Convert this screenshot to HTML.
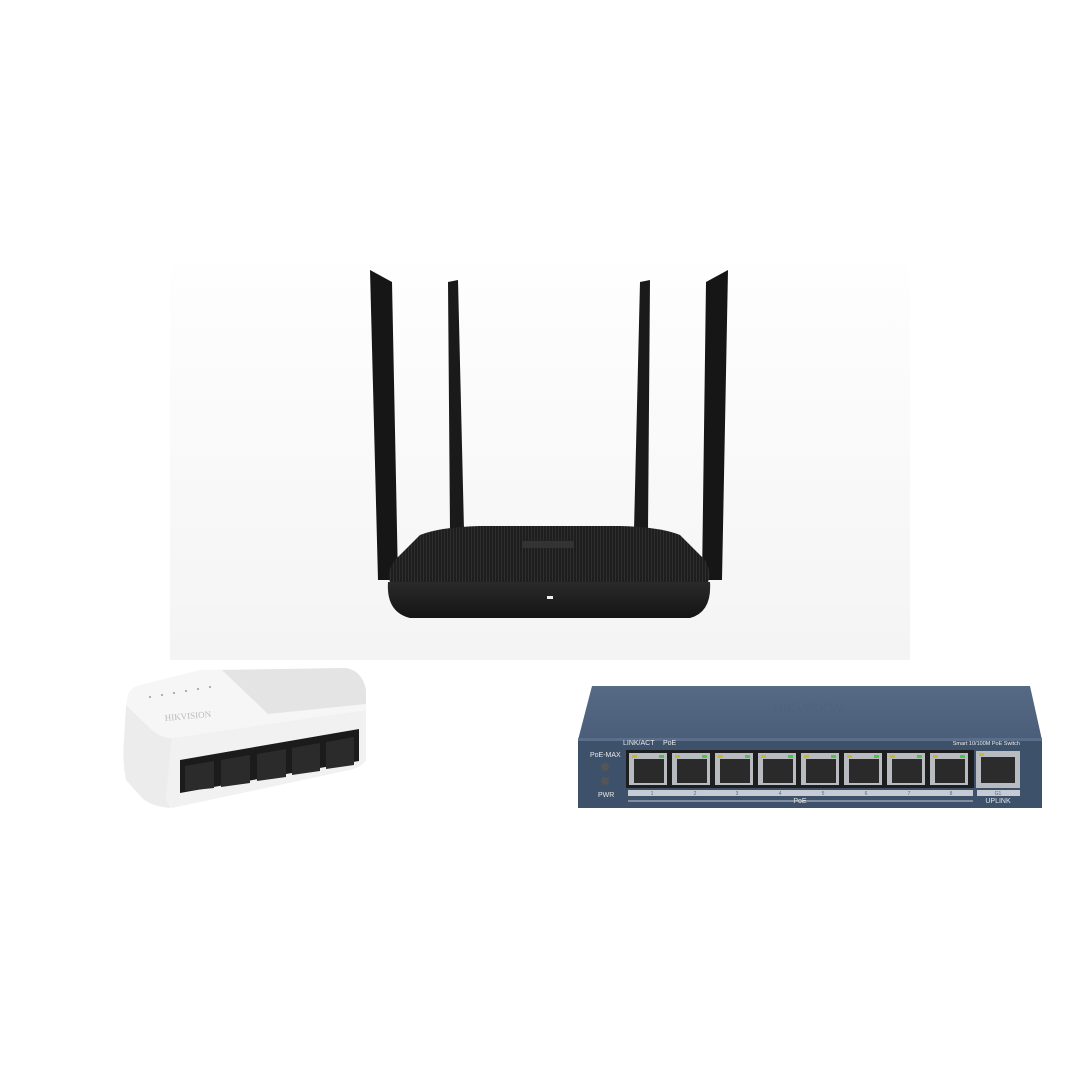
<!DOCTYPE html>
<html><head><style>html,body{margin:0;padding:0;background:#fff;}svg{display:block}</style></head>
<body>
<svg width="1080" height="1080" viewBox="0 0 1080 1080" xmlns="http://www.w3.org/2000/svg" font-family="Liberation Sans, sans-serif">
<rect width="1080" height="1080" fill="#fff"/>
<defs>
<linearGradient id="bg" x1="0" y1="0" x2="0" y2="1"><stop offset="0" stop-color="#fefefe"/><stop offset="1" stop-color="#f4f4f4"/></linearGradient>
<linearGradient id="rt" x1="0" y1="0" x2="0" y2="1"><stop offset="0" stop-color="#2a2a2a"/><stop offset="1" stop-color="#141414"/></linearGradient>
<linearGradient id="pt" x1="0" y1="0" x2="0" y2="1"><stop offset="0" stop-color="#566a86"/><stop offset="1" stop-color="#4a5d79"/></linearGradient>
<pattern id="stripe" width="3" height="10" patternUnits="userSpaceOnUse"><rect width="3" height="10" fill="#1e1e1e"/><rect width="1" height="10" fill="#2e2e2e"/></pattern>
</defs>
<rect x="170" y="265" width="740" height="395" fill="url(#bg)"/>
<polygon points="370,270 392,282 398,580 378,580" fill="#161616"/>
<polygon points="448,282 458,280 464,530 450,530" fill="#1a1a1a"/>
<polygon points="640,282 650,280 648,530 634,530" fill="#1a1a1a"/>
<polygon points="706,282 728,270 722,580 702,580" fill="#161616"/>
<path d="M420,535 Q440,527 480,526 L620,526 Q660,527 680,535 L705,560 Q712,572 708,582 L390,582 Q386,572 395,560 Z" fill="url(#stripe)"/>
<rect x="522" y="541" width="52" height="7" fill="#333"/>
<path d="M388,582 L710,582 Q712,612 690,618 L410,618 Q386,612 388,582 Z" fill="url(#rt)"/>
<rect x="547" y="596" width="6" height="3" fill="#eee"/>
<!-- small white switch -->
<path d="M128,694 Q130,688 140,685 L200,670 L345,668 Q362,670 366,690 L366,710 L172,738 Q160,738 150,728 L126,705 Z" fill="#f6f6f6"/>
<path d="M222,670 L345,668 Q362,670 366,690 L366,704 L268,714 Z" fill="#e4e4e4"/>
<path d="M126,705 L150,728 Q160,738 172,738 L170,808 Q150,806 142,798 L126,780 Q122,760 124,740 Z" fill="#ececec"/>
<path d="M172,738 L366,710 L366,760 Q362,768 345,771 L172,808 Q166,805 166,795 Z" fill="#f1f1f1"/>
<polygon points="180,760 359,729 359,761 180,793" fill="#1b1b1b"/>
<g fill="#2b2b2b"><polygon points="185,766 214,761 214,788 185,791"/><polygon points="221,760 250,755 250,783 221,787"/><polygon points="257,754 286,749 286,777 257,781"/><polygon points="292,748 320,743 320,771 292,775"/><polygon points="326,742 354,737 354,765 326,769"/></g>
<text x="165" y="721" font-size="9" fill="#bbb" transform="rotate(-5 165 721)" font-family="Liberation Serif, serif">HIKVISION</text>
<g fill="#999"><circle cx="150" cy="697" r="1"/><circle cx="162" cy="695" r="1"/><circle cx="174" cy="693" r="1"/><circle cx="186" cy="691" r="1"/><circle cx="198" cy="689" r="1"/><circle cx="210" cy="687" r="1"/></g>
<!-- PoE switch -->
<polygon points="592,686 1030,686 1042,740 578,740" fill="url(#pt)"/>
<text x="808" y="713" font-size="14" fill="#4f627d" text-anchor="middle" font-style="italic">HIKVISION</text>
<rect x="578" y="738" width="464" height="70" fill="#3e516b"/>
<rect x="578" y="738" width="464" height="3" fill="#5a6e8a"/>
<text x="623" y="745" font-size="7" fill="#e8e8e8">LINK/ACT</text>
<text x="663" y="745" font-size="7" fill="#e8e8e8">PoE</text>
<text x="1020" y="745" font-size="5.5" fill="#e8e8e8" text-anchor="end">Smart 10/100M PoE Switch</text>
<text x="590" y="757" font-size="7" fill="#e8e8e8">PoE-MAX</text>
<text x="598" y="797" font-size="7" fill="#e8e8e8">PWR</text>
<circle cx="605" cy="767" r="4" fill="#555"/><circle cx="605" cy="781" r="4" fill="#555"/>
<rect x="626" y="750" width="348" height="38" fill="#1e1e1e"/>
<g id="ports">
<rect x="629" y="753" width="38" height="32" fill="#b8bcc0"/><rect x="634" y="759" width="30" height="24" fill="#2a2a2a"/><rect x="632" y="755" width="5" height="3" fill="#c9b82a"/><rect x="659" y="755" width="5" height="3" fill="#4fc44a"/>
</g>
<use href="#ports" x="43"/><use href="#ports" x="86"/><use href="#ports" x="129"/><use href="#ports" x="172"/><use href="#ports" x="215"/><use href="#ports" x="258"/><use href="#ports" x="301"/>
<rect x="976" y="751" width="44" height="37" fill="#b8bcc0"/><rect x="981" y="757" width="34" height="26" fill="#2c2c2c"/><rect x="979" y="753" width="5" height="3" fill="#c9b82a"/>
<rect x="628" y="790" width="345" height="6" fill="#c7ccd4"/>
<rect x="977" y="790" width="43" height="6" fill="#c7ccd4"/>
<g font-size="5" fill="#5a6a80" text-anchor="middle"><text x="652" y="795">1</text><text x="695" y="795">2</text><text x="737" y="795">3</text><text x="780" y="795">4</text><text x="823" y="795">5</text><text x="866" y="795">6</text><text x="909" y="795">7</text><text x="951" y="795">8</text><text x="998" y="795">G1</text></g>
<line x1="628" y1="801" x2="973" y2="801" stroke="#c7ccd4"/>
<text x="800" y="803" font-size="7" fill="#e8e8e8" text-anchor="middle">PoE</text>
<text x="998" y="803" font-size="7" fill="#e8e8e8" text-anchor="middle">UPLINK</text>
</svg>
</body></html>
